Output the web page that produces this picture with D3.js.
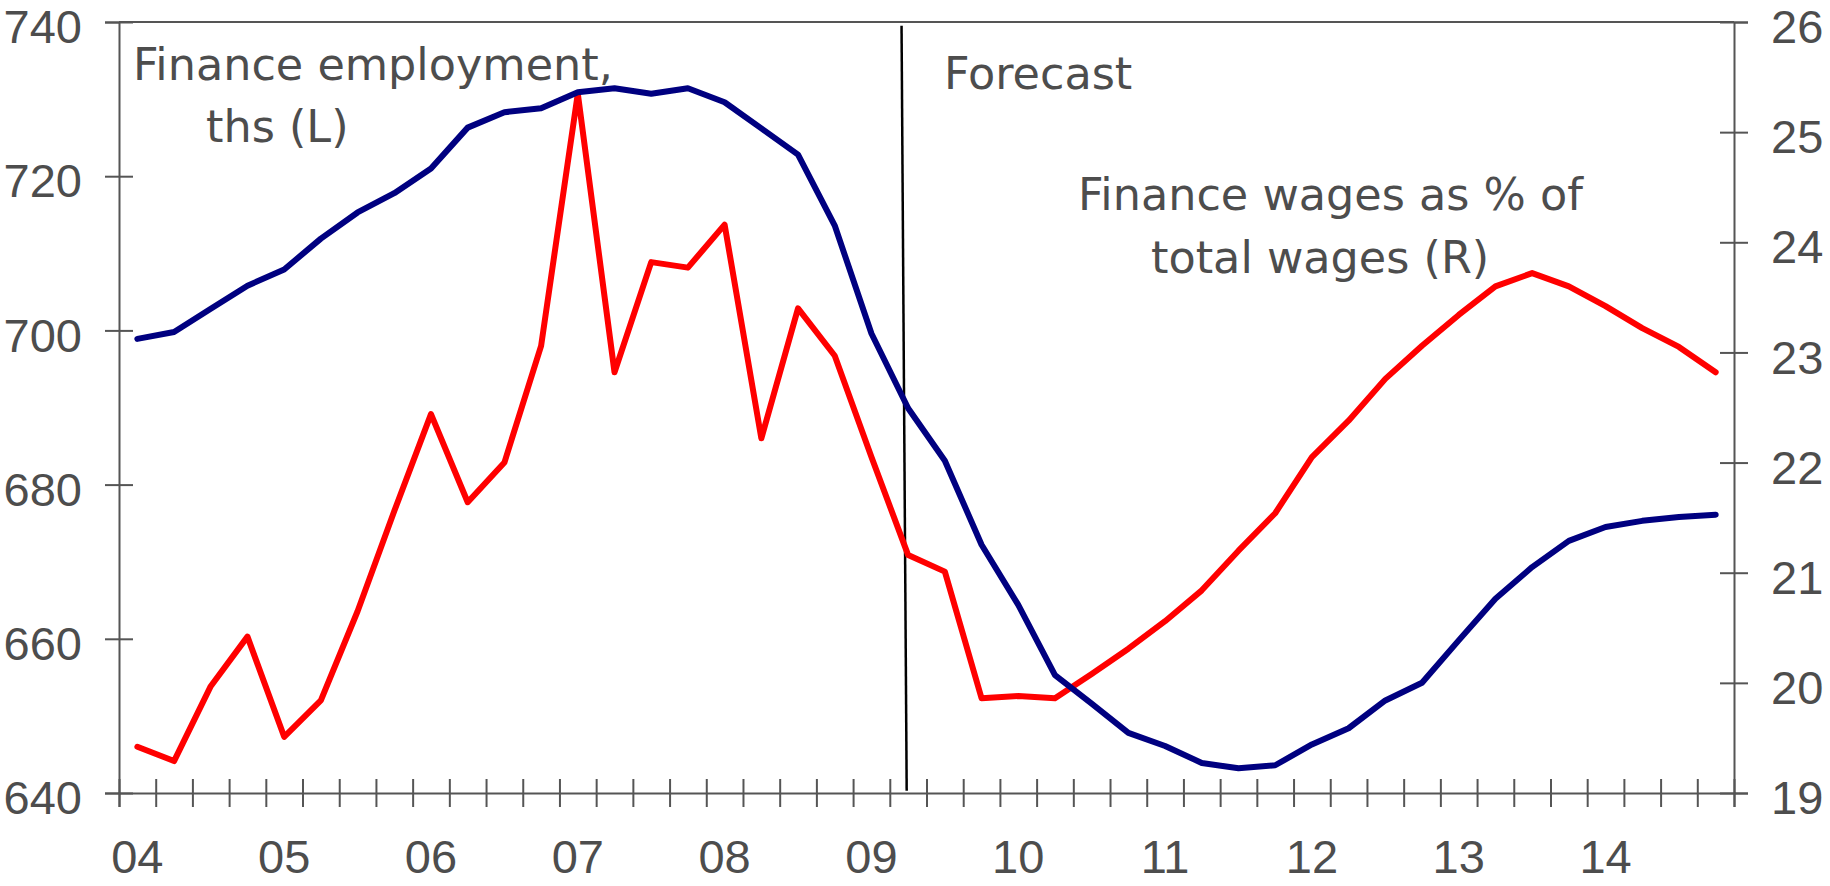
<!DOCTYPE html>
<html>
<head>
<meta charset="utf-8">
<script src="https://cdn.jsdelivr.net/npm/d3@7"></script>
<style>
  body { margin: 0; background: #fff; }
  svg { display: block; }
</style>
</head>
<body>
<div class="svg-content"></div>
<script>
// year labels, one per Q1 (2004Q1 .. 2014Q4 quarterly data)
var years = ["04", "05", "06", "07", "08", "09", "10", "11", "12", "13", "14"];

// finance employment, ths (left axis)
var employment = [698.9, 699.8, 702.8, 705.8, 707.9, 711.9, 715.3, 717.8, 721.0, 726.3,
  728.3, 728.8, 730.9, 731.4, 730.7, 731.4, 729.6, 726.2, 722.8, 713.6,
  699.6, 689.9, 683.1, 672.2, 664.4, 655.3, 651.6, 647.8, 646.1, 643.9,
  643.2, 643.6, 646.3, 648.4, 652.0, 654.3, 659.8, 665.2, 669.3, 672.7,
  674.5, 675.3, 675.8, 676.1];

// finance wages as % of total wages (right axis)
var wages = [19.42, 19.29, 19.97, 20.42, 19.51, 19.84, 20.65, 21.56, 22.44, 21.64,
  22.0, 23.06, 25.35, 22.82, 23.82, 23.77, 24.16, 22.22, 23.4, 22.97,
  22.05, 21.16, 21.01, 19.86, 19.88, 19.86, 20.08, 20.31, 20.56, 20.84,
  21.2, 21.54, 22.05, 22.38, 22.76, 23.06, 23.34, 23.6, 23.72, 23.6,
  23.42, 23.22, 23.05, 22.82];

var leftTicks = [640, 660, 680, 700, 720, 740];
var rightTicks = [19, 20, 21, 22, 23, 24, 25, 26];

// forecast divider, in quarters from start (top end, bottom end)
var forecastAt = [21.32, 21.46];

var width = 1830;
var height = 886;
var plotLeft = 119, plotRight = 1734, plotTop = 22, plotBottom = 793;
var grey = "#555555";
var textGrey = "#4d4d4d";

var svg = d3.select(".svg-content")
  .append("svg")
  .attr("width", width)
  .attr("height", height);

var x = d3.scaleLinear().domain([0, employment.length]).range([plotLeft, plotRight]);
var yL = d3.scaleLinear().domain([640, 740]).range([plotBottom, plotTop]);
var yR = d3.scaleLinear().domain([19, 26]).range([plotBottom, plotTop]);

// top frame line
svg.append("line")
  .attr("x1", plotLeft).attr("x2", plotRight)
  .attr("y1", plotTop).attr("y2", plotTop)
  .attr("stroke", grey).attr("stroke-width", 2);

// left axis
var gL = svg.append("g")
  .attr("transform", "translate(" + plotLeft + ",0)")
  .call(d3.axisLeft(yL).tickValues(leftTicks).tickSize(14).tickPadding(23).tickFormat(d3.format("d")));

// right axis
var gR = svg.append("g")
  .attr("transform", "translate(" + plotRight + ",0)")
  .call(d3.axisRight(yR).tickValues(rightTicks).tickSize(14).tickPadding(23).tickFormat(d3.format("d")));

// bottom axis, quarterly ticks
var gB = svg.append("g")
  .attr("transform", "translate(0," + plotBottom + ")")
  .call(d3.axisBottom(x).tickValues(d3.range(0, employment.length + 1)).tickSize(14).tickFormat(""));

gL.selectAll(".tick line").attr("x1", 14);
gR.selectAll(".tick line").attr("x1", -14);
gB.selectAll(".tick line").attr("y1", -14);

[gL, gR, gB].forEach(function(g) {
  g.select(".domain").attr("stroke", grey).attr("stroke-width", 2);
  g.selectAll(".tick line").attr("stroke", grey).attr("stroke-width", 2);
  g.selectAll("text")
    .attr("fill", textGrey)
    .attr("font-family", "'Liberation Sans', Arial, sans-serif")
    .attr("font-size", "47px");
});
gL.selectAll("text").attr("dy", "0.44em");
gR.selectAll("text").attr("dy", "0.44em");

// year labels under the first quarter of each year
svg.append("g").selectAll("text")
  .data(years)
  .enter()
  .append("text")
  .attr("x", function(d, i) { return x(i * 4 + 0.5); })
  .attr("y", 873)
  .attr("text-anchor", "middle")
  .attr("fill", textGrey)
  .attr("font-family", "'Liberation Sans', Arial, sans-serif")
  .attr("font-size", "47px")
  .text(function(d) { return d; });

// forecast divider
svg.append("line")
  .attr("x1", x(forecastAt[0])).attr("y1", yL(739.5))
  .attr("x2", x(forecastAt[1])).attr("y2", yL(640.3))
  .attr("stroke", "#000").attr("stroke-width", 2.5);

// series
var lineL = d3.line()
  .x(function(d, i) { return x(i + 0.5); })
  .y(function(d) { return yL(d); });

var lineR = d3.line()
  .x(function(d, i) { return x(i + 0.5); })
  .y(function(d) { return yR(d); });

svg.append("path")
  .datum(wages)
  .attr("d", lineR)
  .attr("fill", "none")
  .attr("stroke", "#ff0000")
  .attr("stroke-width", 6)
  .attr("stroke-linejoin", "round")
  .attr("stroke-linecap", "round");

svg.append("path")
  .datum(employment)
  .attr("d", lineL)
  .attr("fill", "none")
  .attr("stroke", "#000080")
  .attr("stroke-width", 6)
  .attr("stroke-linejoin", "round")
  .attr("stroke-linecap", "round");

// annotations
var notes = svg.append("g")
  .attr("fill", textGrey)
  .attr("font-family", "'DejaVu Sans', Verdana, sans-serif")
  .attr("font-size", "44.5px");

notes.append("text").attr("x", 133).attr("y", 80).text("Finance employment,");
notes.append("text").attr("x", 206).attr("y", 142).text("ths (L)");
notes.append("text").attr("x", 944).attr("y", 89).text("Forecast");
notes.append("text").attr("x", 1078).attr("y", 210).text("Finance wages as % of");
notes.append("text").attr("x", 1151).attr("y", 273).text("total wages (R)");
</script>
</body>
</html>
